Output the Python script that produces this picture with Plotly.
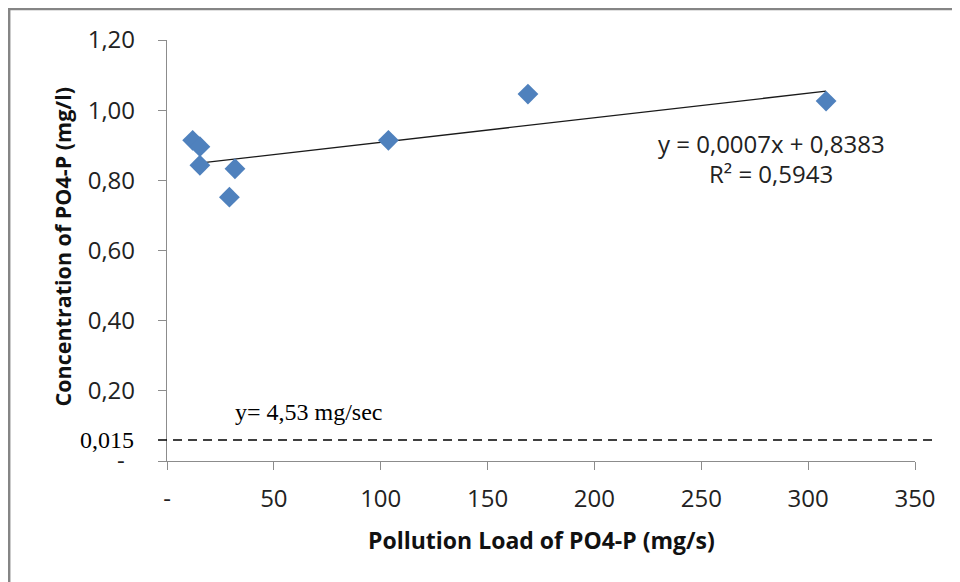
import plotly.graph_objects as go

# Data
load_mg_s = [12.0, 15.4, 15.4, 31.8, 29.2, 103.6, 168.9, 308.4]
conc_mg_l = [0.914, 0.896, 0.843, 0.833, 0.752, 0.914, 1.046, 1.026]

slope = 0.0007
intercept = 0.8383
r_squared = 0.5943

x_ticks = [0, 50, 100, 150, 200, 250, 300, 350]
x_ticktext = ["-", "50", "100", "150", "200", "250", "300", "350"]
y_ticks = [0, 0.2, 0.4, 0.6, 0.8, 1.0, 1.2]
y_ticktext = ["-\u00a0\u2009", "0,20", "0,40", "0,60", "0,80", "1,00", "1,20"]

limit_level = 0.06
limit_label = "0,015"
limit_note = "y= 4,53 mg/sec"

x_min, x_max = min(load_mg_s), max(load_mg_s)
trend_x = [x_min, x_max]
trend_y = [slope * v + intercept for v in trend_x]

fig = go.Figure()
fig.add_trace(go.Scatter(
    x=trend_x, y=trend_y, mode="lines",
    line=dict(color="#1a1a1a", width=1.3), showlegend=False, hoverinfo="skip"))
fig.add_trace(go.Scatter(
    x=load_mg_s, y=conc_mg_l, mode="markers",
    marker=dict(symbol="diamond", size=16, color="#4F81BD", line=dict(width=0)),
    showlegend=False))

tick_font = dict(family="Open Sans", size=24, color="#222222")
axis_col = "#8c8c8c"

fig.update_xaxes(range=[0, 350], tickvals=x_ticks, ticktext=x_ticktext,
                 showgrid=False, zeroline=False, showline=True, linecolor=axis_col,
                 linewidth=1.3, ticks="outside", ticklen=8, tickcolor=axis_col,
                 tickwidth=1.3, tickfont=tick_font, ticklabelstandoff=8)
fig.update_yaxes(range=[0, 1.2], tickvals=y_ticks, ticktext=y_ticktext,
                 showgrid=False, zeroline=False, showline=True, linecolor=axis_col,
                 linewidth=1.3, ticks="outside", ticklen=8, tickcolor=axis_col,
                 tickwidth=1.3, tickfont=tick_font, ticklabelstandoff=18)

# dashed limit line
fig.add_shape(type="line", xref="paper", yref="y", x0=-0.012, x1=1.027,
              y0=limit_level, y1=limit_level,
              line=dict(color="black", width=1.6, dash="9px,6px"))

# outer frame (bottom and right edges fall outside the picture)
fig.add_shape(type="rect", xref="paper", yref="paper", x0=-0.211, x1=1.2,
              y0=-0.4, y1=1.0736, line=dict(color="#858585", width=2.5))

serif = dict(family="Liberation Serif", size=24, color="black")
eq_font = dict(family="Open Sans", size=24, color="#222222")
anns = [
    dict(x=-0.08, y=limit_level, xref="paper", yref="y", text=limit_label,
         font=serif, showarrow=False, xanchor="center", yanchor="middle"),
    dict(x=0.19, y=0.14, xref="paper", yref="y", text=limit_note,
         font=serif, showarrow=False, xanchor="center", yanchor="middle"),
    dict(x=0.808, y=0.905, xref="paper", yref="y",
         text=f"y = {str(slope).replace('.', ',')}x + {str(intercept).replace('.', ',')}",
         font=eq_font, showarrow=False, xanchor="center", yanchor="middle"),
    dict(x=0.808, y=0.82, xref="paper", yref="y",
         text=f"R² = {str(r_squared).replace('.', ',')}",
         font=eq_font, showarrow=False, xanchor="center", yanchor="middle"),
    dict(x=0.5, y=-0.1876, xref="paper", yref="paper",
         text="<b>Pollution Load of PO4-P (mg/s)</b>",
         font=dict(family="Open Sans", size=23, color="#111111"),
         showarrow=False, xanchor="center", yanchor="middle"),
    dict(x=-0.140, y=0.508, xref="paper", yref="paper",
         text="<b>Concentration of PO4-P (mg/l)</b>", textangle=-90,
         font=dict(family="Open Sans", size=21.5, color="#111111"),
         showarrow=False, xanchor="center", yanchor="middle"),
]
fig.update_layout(
    width=960, height=582, autosize=False,
    margin=dict(l=159, r=53, t=32, b=129),
    plot_bgcolor="white", paper_bgcolor="white",
    annotations=anns,
)
fig.write_html("out.html")
